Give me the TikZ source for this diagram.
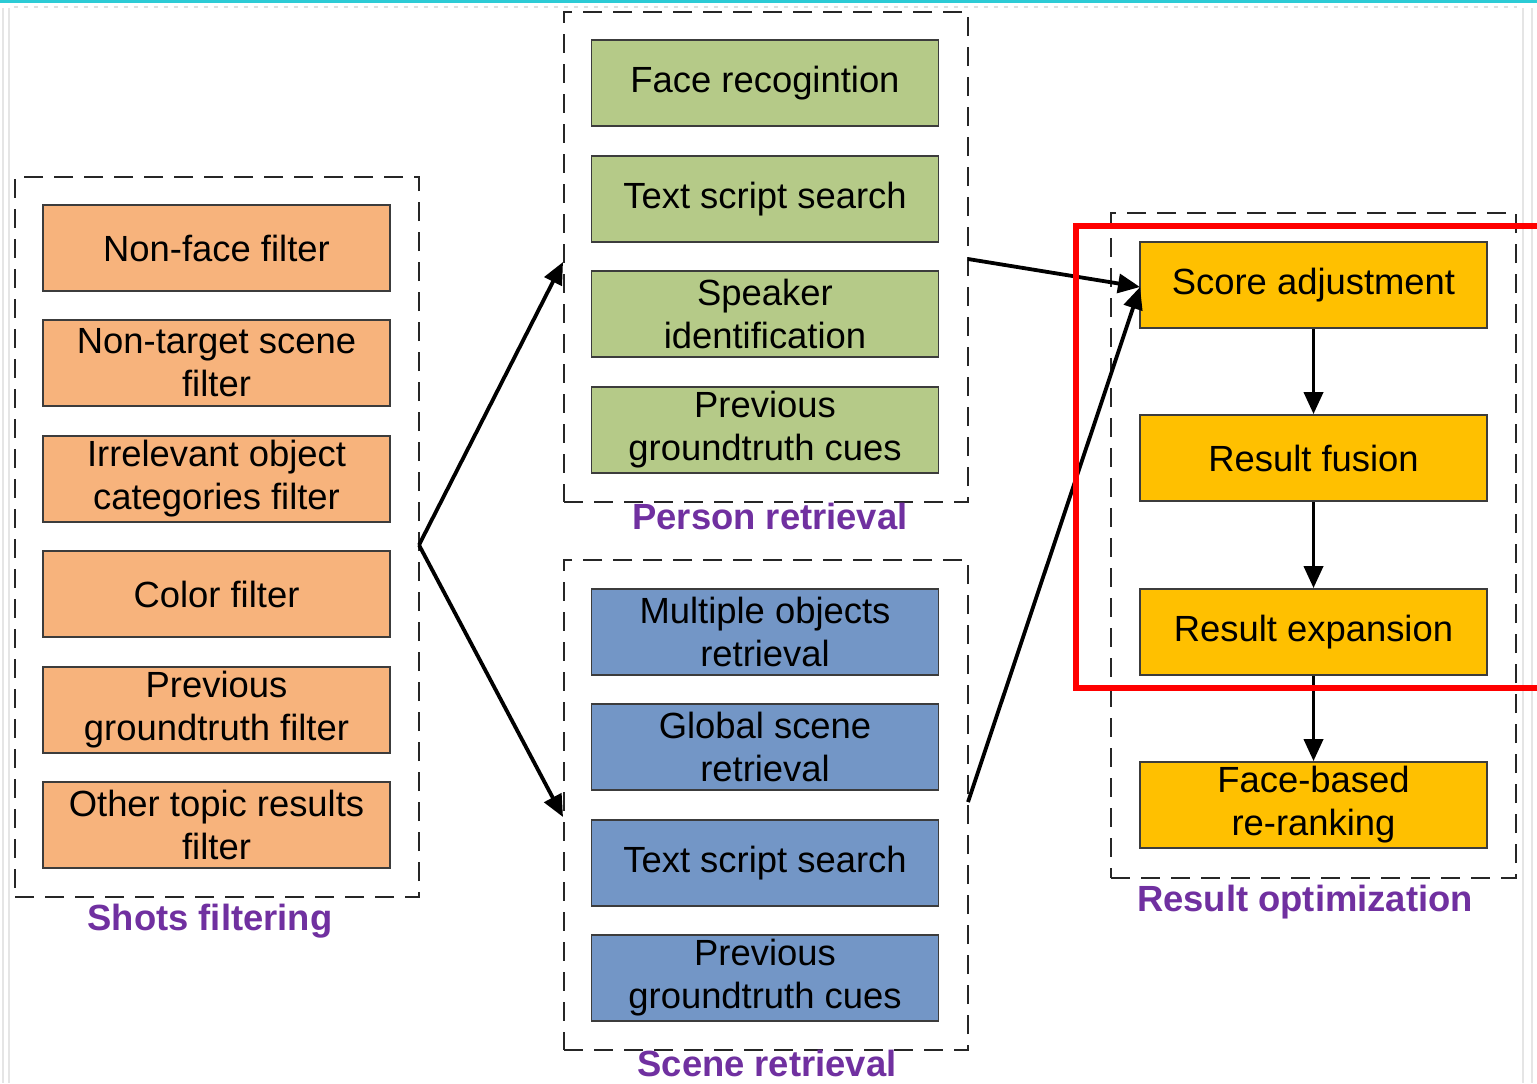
\documentclass[tikz,border=0pt]{standalone}
\usepackage{fontspec}
\setmainfont{Liberation Sans}
\usetikzlibrary{arrows.meta}
\definecolor{orangefill}{HTML}{F7B37C}
\definecolor{greenfill}{HTML}{B5CA88}
\definecolor{bluefill}{HTML}{7396C6}
\definecolor{goldfill}{HTML}{FFC000}
\definecolor{boxline}{HTML}{3C3C3C}
\definecolor{grouplabel}{HTML}{7030A0}
\definecolor{framecyan}{HTML}{2BCBD5}
\begin{document}
\begin{tikzpicture}[x={(0.5pt,0)},y={(0,-0.5pt)},
  stepbox/.style={draw=boxline,line width=0.9pt,minimum width=173.5pt,minimum height=43pt,
    inner sep=0pt,align=center,font=\fontsize{18.2}{21.5}\selectfont},
  orangebox/.style={stepbox,fill=orangefill},
  greenbox/.style={stepbox,fill=greenfill},
  bluebox/.style={stepbox,fill=bluefill},
  goldbox/.style={stepbox,fill=goldfill},
  group/.style={draw=black!85,line width=1.4pt,dash pattern=on 9.5pt off 5.5pt,inner sep=0pt},
  grouptitle/.style={anchor=base,text=grouplabel,font=\fontsize{18.2}{21.5}\selectfont\bfseries},
  flow/.style={draw=black,line width=1.9pt,-{Triangle[length=11pt,width=9.5pt]}},
  ]
\useasboundingbox (0,0) rectangle (1537,1083);
\fill[white] (0,0) rectangle (1537,1083);
% window frame
\fill[framecyan] (0,0) rectangle (1537,3);
\draw[black!12,line width=1pt,dash pattern=on 2pt off 3pt] (14,7) -- (1517,7);
\draw[black!10,line width=1pt] (3,8) -- (3,1083) (9,8) -- (9,1083);
\draw[black!10,line width=1pt] (1523,8) -- (1523,1083) (1532,8) -- (1532,1083);

% dashed groups
\node[group,minimum width=202pt,minimum height=360pt] (shots) at (217,537) {};
\node[group,minimum width=202pt,minimum height=245pt] (person) at (766,257) {};
\node[group,minimum width=202pt,minimum height=245pt] (scene) at (766,805) {};
\node[group,minimum width=202.5pt,minimum height=332.5pt] (result) at (1313.5,545.5) {};

% shots filtering
\node[orangebox] (nonface) at (216.5,248) {Non-face filter};
\node[orangebox] (nontarget) at (216.5,363) {Non-target scene\\filter};
\node[orangebox] (irrelevant) at (216.5,479) {Irrelevant object\\categories filter};
\node[orangebox] (color) at (216.5,594) {Color filter};
\node[orangebox] (prevfilter) at (216.5,710) {Previous\\groundtruth filter};
\node[orangebox] (othertopic) at (216.5,825) {Other topic results\\filter};
\node[grouptitle] (shotslabel) at (210,930) {Shots filtering};

% person retrieval
\node[greenbox] (face) at (765,83) {Face recogintion};
\node[greenbox] (textp) at (765,199) {Text script search};
\node[greenbox] (speaker) at (765,314) {Speaker\\identification};
\node[greenbox] (prevp) at (765,430) {Previous\\groundtruth cues};
\node[grouptitle] (personlabel) at (770,529) {Person retrieval};

% scene retrieval
\node[bluebox] (multi) at (765,632) {Multiple objects\\retrieval};
\node[bluebox] (global) at (765,747) {Global scene\\retrieval};
\node[bluebox] (texts) at (765,863) {Text script search};
\node[bluebox] (prevs) at (765,978) {Previous\\groundtruth cues};
\node[grouptitle] (scenelabel) at (767,1076) {Scene retrieval};

% result optimization
\node[goldbox] (score) at (1313.5,285) {Score adjustment};
\node[goldbox] (fusion) at (1313.5,458) {Result fusion};
\node[goldbox] (expansion) at (1313.5,632) {Result expansion};
\node[goldbox] (rerank) at (1313.5,805) {Face-based\\re-ranking};
\node[grouptitle] (resultlabel) at (1305,911) {Result optimization};

% connector end points on the group borders
\coordinate (fork) at (419,545);
\coordinate (personin) at (563,262);
\coordinate (scenein) at (563,817);
\coordinate (personout) at (968,259);
\coordinate (sceneout) at (968,802);
\coordinate (scorein) at (1140,287);

\draw[flow] (fork) -- (personin);
\draw[flow] (fork) -- (scenein);
\draw[flow] (personout) -- (scorein);
\draw[flow] (sceneout) -- (scorein);
\draw[flow] (score) -- (fusion);
\draw[flow] (fusion) -- (expansion);
\draw[flow] (expansion) -- (rerank);

% highlight frame
\draw[red,line width=2.8pt] (1600,226) -- (1076,226) -- (1076,688) -- (1600,688);
\end{tikzpicture}
\end{document}
